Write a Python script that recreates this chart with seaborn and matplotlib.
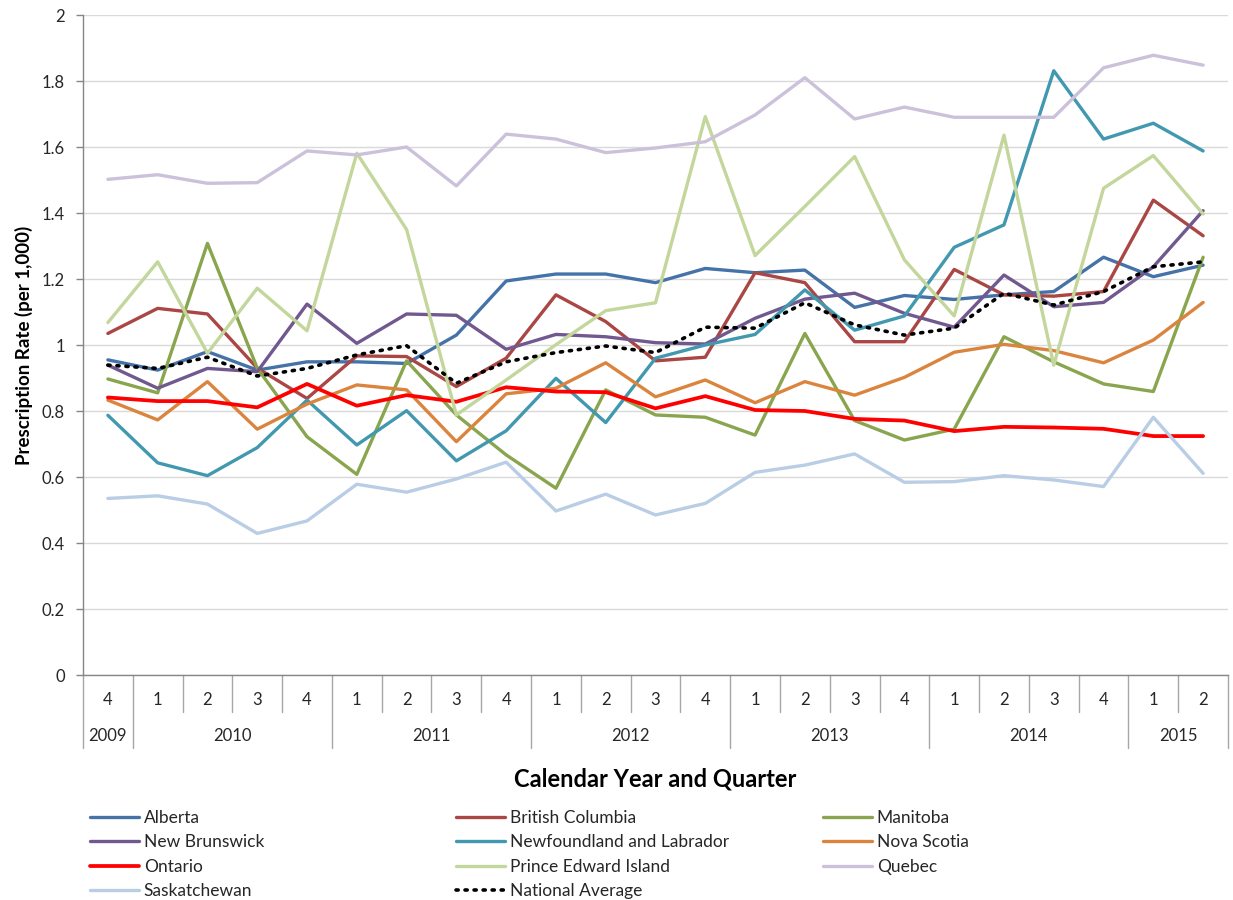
import numpy as np
import pandas as pd
import matplotlib
matplotlib.use("Agg")
import matplotlib.pyplot as plt
import seaborn as sns

# ---------------- data ----------------
quarters = ['4', '1', '2', '3', '4', '1', '2', '3', '4', '1', '2', '3', '4',
            '1', '2', '3', '4', '1', '2', '3', '4', '1', '2']
years = ['2009'] + ['2010'] * 4 + ['2011'] * 4 + ['2012'] * 4 + ['2013'] * 4 + ['2014'] * 4 + ['2015'] * 2

ytick_values = [0, 0.2, 0.4, 0.6, 0.8, 1.0, 1.2, 1.4, 1.6, 1.8, 2.0]
ytick_labels = ['0', '0.2', '0.4', '0.6', '0.8', '1', '1.2', '1.4', '1.6', '1.8', '2']

alberta = [0.955, 0.924, 0.980, 0.924, 0.949, 0.949, 0.944, 1.030, 1.194, 1.215, 1.215, 1.189,
           1.232, 1.219, 1.227, 1.114, 1.150, 1.138, 1.152, 1.162, 1.266, 1.207, 1.242]
british_columbia = [1.035, 1.111, 1.094, 0.930, 0.838, 0.967, 0.965, 0.874, 0.960, 1.152, 1.071, 0.952,
                    0.963, 1.219, 1.189, 1.010, 1.010, 1.229, 1.152, 1.148, 1.162, 1.439, 1.331]
manitoba = [0.897, 0.855, 1.308, 0.930, 0.722, 0.608, 0.952, 0.788, 0.667, 0.566, 0.864, 0.788,
            0.781, 0.727, 1.035, 0.771, 0.712, 0.745, 1.025, 0.949, 0.882, 0.859, 1.266]
new_brunswick = [0.939, 0.869, 0.929, 0.919, 1.124, 1.005, 1.094, 1.090, 0.987, 1.032, 1.025, 1.007,
                 1.003, 1.081, 1.139, 1.157, 1.096, 1.054, 1.212, 1.116, 1.129, 1.237, 1.407]
newfoundland = [0.787, 0.643, 0.604, 0.689, 0.833, 0.697, 0.801, 0.649, 0.740, 0.899, 0.765, 0.960,
                1.000, 1.032, 1.167, 1.045, 1.088, 1.296, 1.364, 1.831, 1.624, 1.672, 1.588]
nova_scotia = [0.833, 0.773, 0.889, 0.745, 0.821, 0.879, 0.864, 0.707, 0.852, 0.869, 0.946, 0.843,
               0.894, 0.825, 0.889, 0.848, 0.902, 0.978, 1.002, 0.983, 0.946, 1.015, 1.129]
ontario = [0.841, 0.830, 0.830, 0.811, 0.882, 0.816, 0.848, 0.828, 0.872, 0.859, 0.857, 0.808,
           0.845, 0.803, 0.800, 0.776, 0.771, 0.739, 0.752, 0.750, 0.746, 0.724, 0.724]
pei = [1.068, 1.252, 0.975, 1.172, 1.043, 1.581, 1.350, 0.788, 0.894, 1.001, 1.104, 1.128,
       1.692, 1.271, 1.420, 1.571, 1.258, 1.088, 1.636, 0.939, 1.475, 1.574, 1.397]
quebec = [1.502, 1.516, 1.490, 1.492, 1.588, 1.576, 1.600, 1.482, 1.639, 1.624, 1.583, 1.597,
          1.616, 1.697, 1.810, 1.685, 1.721, 1.690, 1.690, 1.690, 1.840, 1.878, 1.848]
saskatchewan = [0.535, 0.543, 0.518, 0.429, 0.467, 0.578, 0.554, 0.594, 0.645, 0.497, 0.548, 0.485,
                0.520, 0.614, 0.636, 0.670, 0.584, 0.586, 0.604, 0.591, 0.571, 0.781, 0.611]
national_average = [0.939, 0.929, 0.963, 0.906, 0.929, 0.970, 0.998, 0.884, 0.949, 0.977, 0.997, 0.977,
                    1.054, 1.051, 1.128, 1.061, 1.030, 1.051, 1.157, 1.121, 1.162, 1.237, 1.252]

series_names = ['Alberta', 'British Columbia', 'Manitoba', 'New Brunswick',
                'Newfoundland and Labrador', 'Nova Scotia', 'Ontario',
                'Prince Edward Island', 'Quebec', 'Saskatchewan', 'National Average']
series_values = [alberta, british_columbia, manitoba, new_brunswick, newfoundland,
                 nova_scotia, ontario, pei, quebec, saskatchewan, national_average]

colors = {
    'Alberta': '#4572A7',
    'British Columbia': '#AA4643',
    'Manitoba': '#89A54E',
    'New Brunswick': '#71588F',
    'Newfoundland and Labrador': '#4198AF',
    'Nova Scotia': '#DB843D',
    'Ontario': '#FF0000',
    'Prince Edward Island': '#C3D69B',
    'Quebec': '#CCC1DA',
    'Saskatchewan': '#B9CDE5',
    'National Average': '#000000',
}

# ---------------- style ----------------
sns.set_theme(style='white')
plt.rcParams['font.family'] = ['Lato', 'DejaVu Sans']

W, H = 1233, 900
fig = plt.figure(figsize=(W / 100, H / 100), dpi=100)
ax_left, ax_right, ax_top, ax_bot = 83, 1228, 15, 675
ax = fig.add_axes([ax_left / W, 1 - ax_bot / H, (ax_right - ax_left) / W, (ax_bot - ax_top) / H])

xpos = np.arange(len(quarters))
for name, vals in zip(series_names, series_values):
    df = pd.DataFrame({'x': xpos, 'y': vals})
    if name == 'National Average':
        sns.lineplot(data=df, x='x', y='y', ax=ax, color=colors[name], lw=2.6,
                     linestyle=(0, (0.6, 1.9)), dash_capstyle='round', label=name, zorder=5)
    else:
        lw = 2.7 if name == 'Ontario' else 2.4
        sns.lineplot(data=df, x='x', y='y', ax=ax, color=colors[name], lw=lw,
                     label=name, zorder=3)

ax.set_xlim(-0.5, len(quarters) - 0.5)
ax.set_ylim(0, 2)
ax.set_yticks(ytick_values)
ax.set_yticklabels(ytick_labels, fontsize=12, color='#262626')
ax.tick_params(axis='y', length=5, width=1, color='#868686', direction='out', pad=8, left=True)
ax.set_xticks([])
ax.grid(axis='y', color='#D9D9D9', lw=1)
ax.set_axisbelow(True)
for s in ['top', 'right']:
    ax.spines[s].set_visible(False)
for s in ['left', 'bottom']:
    ax.spines[s].set_color('#868686')
    ax.spines[s].set_linewidth(1)
ax.set_xlabel('')
ax.set_ylabel('Prescription Rate (per 1,000)', fontsize=13.5, fontweight='bold', color='black')
ax.yaxis.set_label_coords(-0.0437, 0.5)

# two-level category axis
trans = ax.get_xaxis_transform()
h_px = ax_bot - ax_top
q_y = -(700 - ax_bot) / h_px
y_y = -(736 - ax_bot) / h_px
q_line = -(712 - ax_bot) / h_px
y_line = -(748 - ax_bot) / h_px
for i, q in enumerate(quarters):
    ax.text(i, q_y, q, transform=trans, ha='center', va='center', fontsize=12, color='#262626')
# separators
bounds = np.arange(-0.5, len(quarters), 1.0)
for b in bounds:
    left_i = int(np.floor(b))
    right_i = left_i + 1
    is_year = (left_i < 0) or (right_i >= len(years)) or (years[left_i] != years[right_i])
    ax.plot([b, b], [0, y_line if is_year else q_line], transform=trans, color='#A6A6A6',
            lw=1, clip_on=False, zorder=1)
# year labels
uniq = []
for y in years:
    if y not in uniq:
        uniq.append(y)
for y in uniq:
    idx = [i for i, v in enumerate(years) if v == y]
    ax.text(np.mean(idx), y_y, y, transform=trans, ha='center', va='center', fontsize=12, color='#262626')

fig.text((ax_left + ax_right) / 2 / W, 1 - 779 / H, 'Calendar Year and Quarter', ha='center', va='center',
         fontsize=17, fontweight='bold', color='black')

# legend in three columns
handles, labels = ax.get_legend_handles_labels()
hmap = dict(zip(labels, handles))
if ax.get_legend():
    ax.get_legend().remove()
columns = [['Alberta', 'New Brunswick', 'Ontario', 'Saskatchewan'],
           ['British Columbia', 'Newfoundland and Labrador', 'Prince Edward Island', 'National Average'],
           ['Manitoba', 'Nova Scotia', 'Quebec']]
col_x = [90, 456, 823]
for cx, col in zip(col_x, columns):
    leg = fig.legend([hmap[n] for n in col], col, loc='upper left',
                     bbox_to_anchor=(cx / W, 1 - 810 / H), bbox_transform=fig.transFigure,
                     frameon=False, fontsize=12.5, handlelength=2.8, handletextpad=0.3,
                     labelspacing=0.48, borderpad=0, borderaxespad=0)
    for t in leg.get_texts():
        t.set_color('#262626')

fig.savefig('out.png', dpi=100)
